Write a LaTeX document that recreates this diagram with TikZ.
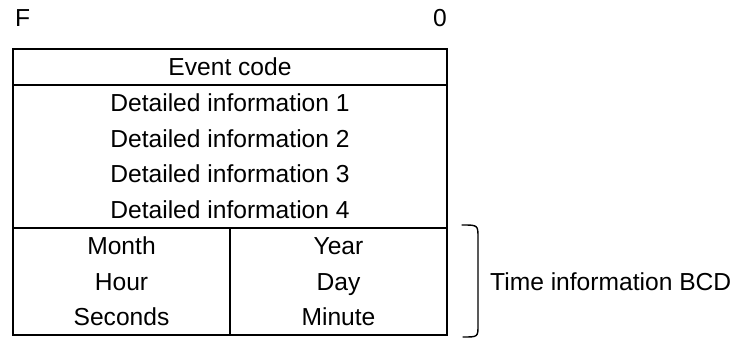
\documentclass[tikz,border=0pt]{standalone}
\usepackage{fontspec}
\setmainfont{Liberation Sans}

\begin{document}
\begin{tikzpicture}[x=1pt,y=-1pt,line join=miter]
\useasboundingbox[fill=white] (0,0) rectangle (736,339);
\tikzset{frame/.style={draw=black,line width=1.8pt},brace/.style={draw=black,line width=1.4pt,line cap=round},cell/.style={font=\fontsize{24.6}{28}\selectfont,anchor=base,inner sep=0pt}}
\node[cell,anchor=base west] (msb) at (15,27) {F}; \node[cell] (lsb) at (440,27) {0};
\draw[frame] (13,49) rectangle (447,335);
\draw[frame] (13,84.75) -- (447,84.75); \draw[frame] (13,227.75) -- (447,227.75); \draw[frame] (230,227.75) -- (230,335);
\node[cell] (evcode) at (230,75.7) {Event code};
\node[cell] (det1) at (230,111.4) {Detailed information 1};
\node[cell] (det2) at (230,147.2) {Detailed information 2};
\node[cell] (det3) at (230,182.9) {Detailed information 3};
\node[cell] (det4) at (230,218.7) {Detailed information 4};
\node[cell] (month) at (121.5,254.4) {Month}; \node[cell] (year) at (338.5,254.4) {Year};
\node[cell] (hour) at (121.5,290.2) {Hour}; \node[cell] (day) at (338.5,290.2) {Day};
\node[cell] (sec) at (121.5,325.9) {Seconds}; \node[cell] (minute) at (338.5,325.9) {Minute};
\draw[brace] (462,225) .. controls (478,225) .. (478,238) -- (478,325) .. controls (478,337) .. (463,337);
\node[cell,anchor=base west] (timeinfo) at (490,290.2) {Time information BCD};
\end{tikzpicture}
\end{document}
